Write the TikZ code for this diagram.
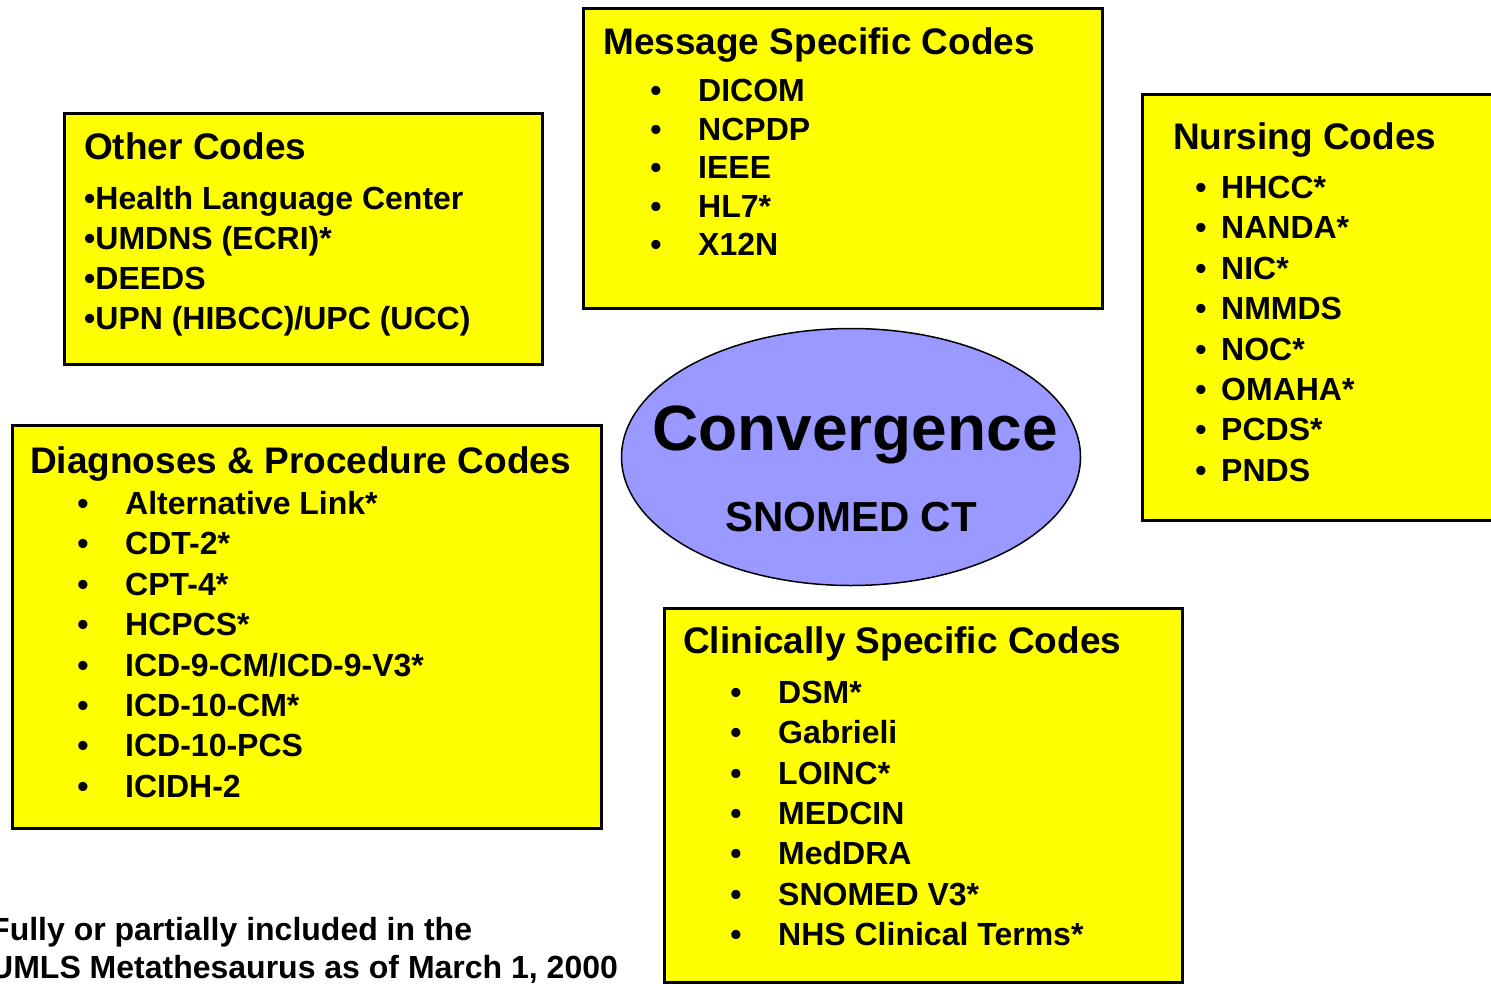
\documentclass[tikz,border=0pt]{standalone}
\usepackage{fontspec}
\setmainfont{Liberation Sans}
\usetikzlibrary{positioning,shapes.geometric}
\definecolor{cYellow}{HTML}{FFFF00}
\definecolor{cLilac}{HTML}{9999FF}
\tikzset{
	codebox/.style={draw=black, line width=2.5pt, fill=cYellow, anchor=north west, inner sep=0pt},
	boxtitle/.style={font=\fontsize{37}{44}\selectfont\bfseries, anchor=base west, inner sep=0pt},
	item/.style={font=\fontsize{32}{38}\selectfont\bfseries, anchor=base west, inner sep=0pt},
	dot/.style={item, anchor=base},
}

\begin{document}
\begin{tikzpicture}[x=1pt, y=-1pt]
	\clip (0,0) rectangle (1491,983);
	% boxes
	\node[codebox, minimum width=478, minimum height=251] (other) at (63,112) {};
	\node[codebox, minimum width=519, minimum height=300] (msg) at (582,7) {};
	\node[codebox, minimum width=380, minimum height=426] (nurs) at (1141,93) {};
	\node[codebox, minimum width=589, minimum height=403] (diag) at (11,424) {};
	\node[codebox, minimum width=518, minimum height=374] (clin) at (663,607) {};
	\node[draw=black, line width=1.5pt, ellipse, fill=cLilac, minimum width=459, minimum height=257] (conv) at (851,457) {};
	% titles
	\node[boxtitle] (other-t) at (84,159) {Other Codes};
	\node[boxtitle] (msg-t) at (603,54) {Message Specific Codes};
	\node[boxtitle] (nurs-t) at (1173,149) {Nursing Codes};
	\node[boxtitle] (diag-t) at (30,473) {Diagnoses \& Procedure Codes};
	\node[boxtitle] (clin-t) at (683,653) {Clinically Specific Codes};
	\node[font=\fontsize{64}{70}\selectfont\bfseries, anchor=base, inner sep=0pt] (conv-t) at (855,450) {Convergence};
	\node[font=\fontsize{42}{48}\selectfont\bfseries, anchor=base, inner sep=0pt] (conv-s) at (851,531) {SNOMED CT};
	% lists
	\foreach \code [count=\i from 0] in {{\textbullet}Health Language Center,{\textbullet}UMDNS (ECRI)*,{\textbullet}DEEDS,{\textbullet}UPN (HIBCC)/UPC (UCC)}
		\node[item] (other\i) at (84,{209.5+40*\i}) {\code};
	\foreach \code [count=\i from 0] in {DICOM,NCPDP,IEEE,HL7*,X12N} {
		\node[dot] (msgdot\i) at (656,{101.5+38.5*\i}) {\textbullet};
		\node[item] (msg\i) at (698,{101.5+38.5*\i}) {\code};
	}
	\foreach \code [count=\i from 0] in {HHCC*,NANDA*,NIC*,NMMDS,NOC*,OMAHA*,PCDS*,PNDS} {
		\node[dot] (nursdot\i) at (1201,{198.5+40.4*\i}) {\textbullet};
		\node[item] (nurs\i) at (1221,{198.5+40.4*\i}) {\code};
	}
	\foreach \code [count=\i from 0] in {Alternative Link*,CDT-2*,CPT-4*,HCPCS*,ICD-9-CM/ICD-9-V3*,ICD-10-CM*,ICD-10-PCS,ICIDH-2} {
		\node[dot] (diagdot\i) at (83,{514.5+40.4*\i}) {\textbullet};
		\node[item] (diag\i) at (125,{514.5+40.4*\i}) {\code};
	}
	\foreach \code [count=\i from 0] in {DSM*,Gabrieli,LOINC*,MEDCIN,MedDRA,SNOMED V3*,NHS Clinical Terms*} {
		\node[dot] (clindot\i) at (736,{703.5+40.3*\i}) {\textbullet};
		\node[item] (clin\i) at (778,{703.5+40.3*\i}) {\code};
	}
	% footnote
	\node[item] (note1) at (-10,940) {Fully or partially included in the};
	\node[item] (note2) at (-10,978) {UMLS Metathesaurus as of March 1, 2000};
\end{tikzpicture}
\end{document}
